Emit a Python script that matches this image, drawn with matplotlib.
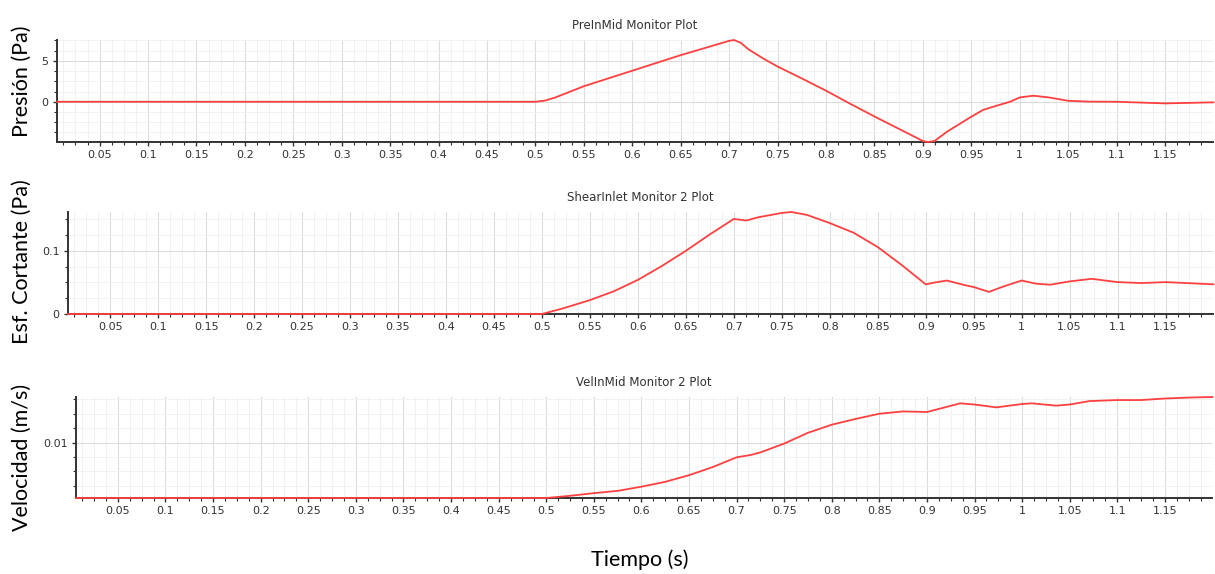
import matplotlib
matplotlib.use('Agg')
import matplotlib.pyplot as plt
from matplotlib.ticker import MultipleLocator, FuncFormatter

# Datos (tiempo en s)
t_pres = [0.006, 0.1, 0.2, 0.3, 0.4, 0.5, 0.51, 0.52, 0.55, 0.6, 0.65, 0.69, 0.70, 0.705,
          0.712, 0.72, 0.735, 0.75, 0.775, 0.8, 0.825, 0.85, 0.875, 0.9, 0.905, 0.912,
          0.925, 0.95, 0.962, 0.975, 0.99, 1.0, 1.014, 1.03, 1.05, 1.07, 1.1, 1.15, 1.2]
presion = [0, 0, 0, 0, 0, 0, 0.15, 0.5, 1.9, 3.8, 5.7, 7.1, 7.45, 7.55,
           7.2, 6.4, 5.3, 4.3, 2.85, 1.35, -0.25, -1.8, -3.3, -4.8, -4.92, -4.8,
           -3.65, -1.83, -1.0, -0.52, 0.0, 0.53, 0.74, 0.53, 0.12, 0.02, 0.0, -0.2, -0.07]

t_shear = [0.006, 0.1, 0.2, 0.3, 0.4, 0.5, 0.522, 0.55, 0.575, 0.6, 0.625, 0.65, 0.675, 0.7,
           0.713, 0.725, 0.75, 0.76, 0.776, 0.8, 0.825, 0.85, 0.875, 0.9, 0.91, 0.922,
           0.94, 0.95, 0.966, 0.98, 1.0, 1.015, 1.03, 1.05, 1.073, 1.1, 1.125, 1.15, 1.2]
cortante = [0, 0, 0, 0, 0, 0, 0.0089, 0.022, 0.036, 0.054, 0.076, 0.1, 0.126, 0.1505,
            0.148, 0.153, 0.16, 0.1615, 0.157, 0.144, 0.1286, 0.106, 0.0776, 0.047, 0.05, 0.053,
            0.046, 0.0427, 0.035, 0.043, 0.053, 0.048, 0.0464, 0.0516, 0.0557, 0.0505, 0.049, 0.0505, 0.047]

t_vel = [0.006, 0.1, 0.2, 0.3, 0.4, 0.5, 0.525, 0.55, 0.575, 0.6, 0.625, 0.65, 0.675, 0.7,
         0.715, 0.725, 0.75, 0.775, 0.8, 0.825, 0.85, 0.875, 0.9, 0.935, 0.95, 0.973,
         1.0, 1.01, 1.036, 1.05, 1.071, 1.1, 1.125, 1.15, 1.175, 1.2]
velocidad = [0.0004, 0.0004, 0.0004, 0.0004, 0.0004, 0.0004, 0.00078, 0.00124, 0.00163, 0.00236,
             0.0032, 0.00435, 0.00576, 0.00745, 0.00786, 0.0083, 0.00983, 0.0117, 0.0131, 0.0141,
             0.015, 0.0154, 0.0153, 0.0168, 0.0166, 0.0161, 0.01669, 0.0168, 0.0164, 0.0166,
             0.0172, 0.01737, 0.01737, 0.01764, 0.0178, 0.0179]

titulos = ['PreInMid Monitor Plot', 'ShearInlet Monitor 2 Plot', 'VelInMid Monitor 2 Plot']
etiquetas_y = ['Presión (Pa)', 'Esf. Cortante (Pa)', 'Velocidad (m/s)']

W, H = 1215, 574
fig = plt.figure(figsize=(W / 100, H / 100), dpi=100)

# cajas en pixeles: izquierda, derecha, arriba, abajo
cajas = [(57, 1213, 40, 142), (68, 1213, 212, 314), (76, 1212, 397, 498)]
series = [(t_pres, presion), (t_shear, cortante), (t_vel, velocidad)]
limites_y = [(-4.92, 7.55), (0, 0.1615), (0.0004, 0.0179)]
mayor_y = [5, 0.1, 0.01]
menor_y = [1.25, 0.025, 0.0025]
pos_label = [81, 262, 457]

fmt = FuncFormatter(lambda v, p: '{:g}'.format(round(v, 6)))

for i in range(3):
    l, r, top, bot = cajas[i]
    ax = fig.add_axes([l / W, 1 - bot / H, (r - l) / W, (bot - top) / H])
    x, y = series[i]
    ax.plot(x, y, color='#ff4040', lw=1.3, clip_on=False, zorder=3)
    ax.set_xlim(0.006, 1.1995)
    ax.set_ylim(*limites_y[i])
    ax.xaxis.set_major_locator(MultipleLocator(0.05))
    ax.xaxis.set_minor_locator(MultipleLocator(0.0125))
    ax.yaxis.set_major_locator(MultipleLocator(mayor_y[i]))
    ax.yaxis.set_minor_locator(MultipleLocator(menor_y[i]))
    ax.xaxis.set_major_formatter(fmt)
    ax.yaxis.set_major_formatter(fmt)
    ax.grid(which='major', color='#dcdcdc', lw=0.8)
    ax.grid(which='minor', color='#f0f0f0', lw=0.6)
    ax.set_axisbelow(True)
    for s in ['top', 'right']:
        ax.spines[s].set_visible(False)
    for s in ['left', 'bottom']:
        ax.spines[s].set_color('#333333')
        ax.spines[s].set_linewidth(1.4)
    ax.tick_params(which='major', length=3, width=1, colors='#333333', labelsize=8, pad=3)
    ax.tick_params(which='minor', length=2, width=0.8, colors='#333333')
    ax.set_title(titulos[i], fontsize=8.5, color='#333333', pad=8)
    fig.text(22 / W, 1 - pos_label[i] / H, etiquetas_y[i], rotation=90, ha='center', va='center',
             fontsize=15.5, family='Lato')

fig.text(640 / W, 1 - 560 / H, 'Tiempo (s)', ha='center', va='center', fontsize=15.5, family='Lato')

plt.savefig('out.png', dpi=100)
plt.close()
